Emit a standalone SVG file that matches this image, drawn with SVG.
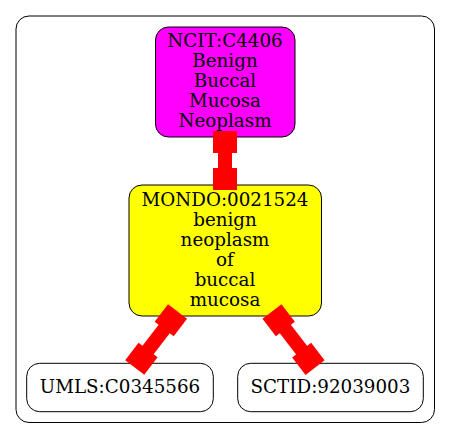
<svg xmlns="http://www.w3.org/2000/svg" width="451" height="439" viewBox="0 0 451 439">
<style>
.node rect{stroke:#000;stroke-width:1}
text{font-family:"DejaVu Serif","Liberation Serif",serif;font-size:18.3px;fill:#000;text-anchor:middle}
.edge rect{fill:#ff0000}
</style>
<rect x="16" y="16" width="418.5" height="406.5" rx="13" fill="#fff" stroke="#000" stroke-width="1"/>
<g id="ncit" class="node">
<rect x="155.5" y="27" width="139.5" height="110" rx="13" fill="#ff00ff"/>
<text x="225" y="47.3">NCIT:C4406</text>
<text x="225" y="67.2">Benign</text>
<text x="225" y="87">Buccal</text>
<text x="225" y="106.9">Mucosa</text>
<text x="225" y="126.7">Neoplasm</text>
</g>
<g id="mondo" class="node">
<rect x="129" y="185" width="192.5" height="131" rx="13" fill="#ffff00"/>
<text x="225" y="206">MONDO:0021524</text>
<text x="225" y="226">benign</text>
<text x="225" y="246">neoplasm</text>
<text x="225" y="266">of</text>
<text x="225" y="286">buccal</text>
<text x="225" y="306">mucosa</text>
</g>
<g id="umls" class="node">
<rect x="26.7" y="363.3" width="186.6" height="48.4" rx="13" fill="#fff"/>
<text x="120" y="393">UMLS:C0345566</text>
</g>
<g id="sctid" class="node">
<rect x="237.7" y="363.3" width="185.6" height="48.4" rx="13" fill="#fff"/>
<text x="330.5" y="393">SCTID:92039003</text>
</g>
<g id="edges" class="edge">
<g id="e1">
<rect x="213" y="131" width="24" height="22"/>
<rect x="218" y="152" width="14" height="17"/>
<rect x="213" y="168" width="24" height="22"/>
</g>
<g id="e2" transform="translate(174.5,315.5) rotate(127.4)">
<rect x="-5" y="-12" width="22" height="24"/>
<rect x="16" y="-7" width="28.5" height="14"/>
<rect x="43.5" y="-12" width="22" height="24"/>
</g>
<g id="e3" transform="translate(275,315.5) rotate(52.4)">
<rect x="-5" y="-12" width="22" height="24"/>
<rect x="16" y="-7" width="28.7" height="14"/>
<rect x="43.7" y="-12" width="22" height="24"/>
</g>
</g>
</svg>
